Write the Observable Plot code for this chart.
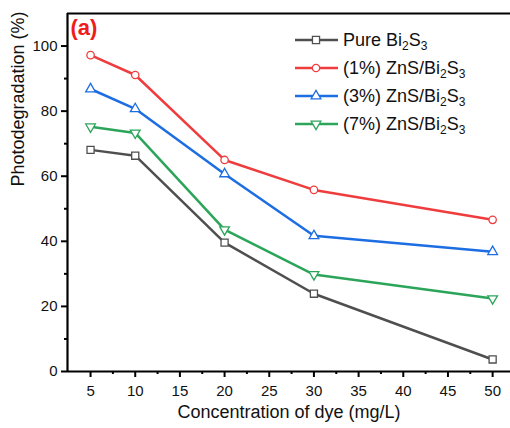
<!DOCTYPE html>
<html>
<head>
<meta charset="utf-8">
<script src="https://cdn.jsdelivr.net/npm/d3@7"></script>
<script src="https://cdn.jsdelivr.net/npm/@observablehq/plot@0.6"></script>
<style>
  body { margin: 0; background: #fff; }
  #wrap { position: relative; width: 510px; height: 428px; font-family: "Liberation Sans", Arial, sans-serif; }
  #legend { position: absolute; left: 293px; top: 26px; font-size: 18px; color: #111; }
  .row { display: flex; align-items: center; height: 28px; }
  .row svg { margin-right: 4px; }
  sub { font-size: 12px; vertical-align: -4px; line-height: 0; }
</style>
</head>
<body>
<div id="wrap"><div id="legend"></div></div>
<script>
// ---- data ----
const concentrations = [5, 10, 20, 30, 50];
const pure = [68.1, 66.3, 39.6, 23.9, 3.7];
const zns1 = [97.2, 91.1, 65.0, 55.8, 46.6];
const zns3 = [86.8, 80.7, 60.7, 41.7, 36.8];
const zns7 = [75.2, 73.3, 43.6, 29.8, 22.4];
const seriesNames = ["Pure Bi2S3", "(1%) ZnS/Bi2S3", "(3%) ZnS/Bi2S3", "(7%) ZnS/Bi2S3"];
const seriesLabelsHTML = ["Pure Bi<sub>2</sub>S<sub>3</sub>", "(1%) ZnS/Bi<sub>2</sub>S<sub>3</sub>", "(3%) ZnS/Bi<sub>2</sub>S<sub>3</sub>", "(7%) ZnS/Bi<sub>2</sub>S<sub>3</sub>"];
const seriesColors = ["#4f4f4f", "#ef3d3d", "#1d6de3", "#2ca55b"];
const xMajorTicks = [5, 10, 15, 20, 25, 30, 35, 40, 45, 50];
const xMinorTicks = [7.5, 12.5, 17.5, 22.5, 27.5, 32.5, 37.5, 42.5, 47.5];
const yMajorTicks = [0, 20, 40, 60, 80, 100];
const yMinorTicks = [10, 30, 50, 70, 90];
const xDomain = [2.42, 52.0];
const yDomain = [0, 110];

const triangleDown = {
  draw(context, size) {
    const y = -Math.sqrt(size / (3 * Math.sqrt(3)));
    context.moveTo(0, -2 * y);
    context.lineTo(-Math.sqrt(3) * y, y);
    context.lineTo(Math.sqrt(3) * y, y);
    context.closePath();
  }
};
const seriesSymbols = ["square", "circle", "triangle", triangleDown];
const seriesR = [4, 3.7, 3.6, 3.6];

const values = [pure, zns1, zns3, zns7];
const table = [];
values.forEach((vals, si) => vals.forEach((v, i) => table.push({series: seriesNames[si], si, x: concentrations[i], y: v})));

const font = "'Liberation Sans', Arial, sans-serif";
const marks = [];
seriesNames.forEach((name, si) => {
  const d = table.filter(t => t.si === si);
  marks.push(Plot.line(d, {x: "x", y: "y", stroke: seriesColors[si], strokeWidth: 2.5}));
});
seriesNames.forEach((name, si) => {
  const d = table.filter(t => t.si === si);
  marks.push(Plot.dot(d, {x: "x", y: "y", symbol: seriesSymbols[si], r: seriesR[si], stroke: seriesColors[si], strokeWidth: 1.3, fill: "white"}));
});

const chart = Plot.plot({
  width: 510,
  height: 428,
  marginLeft: 67,
  marginRight: 0,
  marginTop: 13,
  marginBottom: 57,
  style: {fontFamily: font, background: "white", color: "#111"},
  x: {domain: xDomain},
  y: {domain: yDomain},
  marks: [
    ...marks,
    Plot.axisX({ticks: xMajorTicks, tickSize: 6, tickPadding: 8, fontSize: 15, strokeWidth: 2, label: null, stroke: "#000", fill: "#111"}),
    Plot.axisX({ticks: xMinorTicks, tickSize: 3, text: null, strokeWidth: 2, label: null, stroke: "#000"}),
    Plot.axisY({ticks: yMajorTicks, tickSize: 6, tickPadding: 4, fontSize: 15, strokeWidth: 2, label: null, stroke: "#000", fill: "#111"}),
    Plot.axisY({ticks: yMinorTicks, tickSize: 3, text: null, strokeWidth: 2, label: null, stroke: "#000"}),
    Plot.ruleY([yDomain[0]], {stroke: "#000", strokeWidth: 2.2}),
    Plot.ruleY([yDomain[1]], {stroke: "#000", strokeWidth: 2.2}),
    Plot.ruleX([xDomain[0]], {stroke: "#000", strokeWidth: 2.2}),
    Plot.text(["Concentration of dye (mg/L)"], {frameAnchor: "bottom", dy: 41, fontSize: 18, fill: "#111", lineAnchor: "middle"}),
    Plot.text(["Photodegradation (%)"], {frameAnchor: "left", dx: -49, dy: -6, rotate: -90, fontSize: 18, fill: "#111", lineAnchor: "middle"}),
    Plot.text(["(a)"], {frameAnchor: "top-left", dx: 3, dy: 6, fontSize: 22, fontWeight: "bold", fill: "#ee1c1c", textAnchor: "start", lineAnchor: "top"})
  ]
});
document.getElementById("wrap").prepend(chart);

// legend
const legend = document.getElementById("legend");
seriesNames.forEach((name, si) => {
  const row = document.createElement("div");
  row.className = "row";
  const svg = d3.create("svg").attr("width", 46).attr("height", 14);
  svg.append("line").attr("x1", 2).attr("x2", 45).attr("y1", 7).attr("y2", 7)
    .attr("stroke", seriesColors[si]).attr("stroke-width", 2.5);
  const sym = typeof seriesSymbols[si] === "string" ? d3.symbol(
      {square: d3.symbolSquare, circle: d3.symbolCircle, triangle: d3.symbolTriangle}[seriesSymbols[si]],
      Math.PI * seriesR[si] * seriesR[si]) : d3.symbol(seriesSymbols[si], Math.PI * seriesR[si] * seriesR[si]);
  svg.append("path").attr("d", sym()).attr("transform", "translate(23,7)")
    .attr("fill", "white").attr("stroke", seriesColors[si]).attr("stroke-width", 1.3);
  row.appendChild(svg.node());
  const span = document.createElement("span");
  span.innerHTML = seriesLabelsHTML[si];
  row.appendChild(span);
  legend.appendChild(row);
});
</script>
</body>
</html>
